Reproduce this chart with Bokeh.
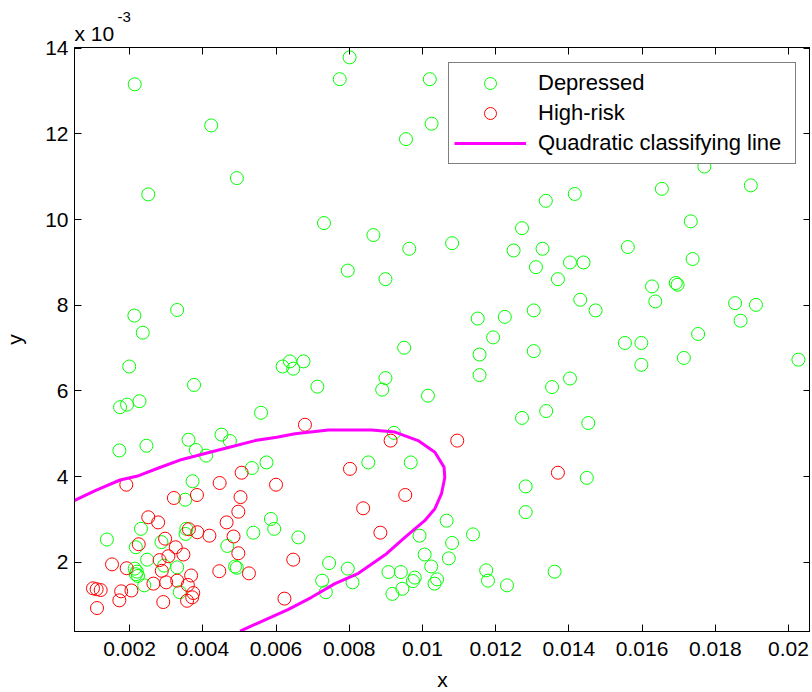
from bokeh.plotting import figure
from bokeh.models import LinearAxis, FixedTicker, Legend, LegendItem, Range1d, Title
from bokeh.embed import file_html
from bokeh.resources import INLINE

# ---------------- data (x in units of 1e-3, y in units of 1e-3) ----------------
dep_x = [2.14, 4.23, 4.93, 2.51, 2.13, 3.30, 2.36, 1.99, 6.38, 6.18, 6.47, 6.75, 3.76,
         8.01, 7.74, 10.20, 10.25, 9.55, 13.37, 7.31, 8.66, 12.72, 9.64, 10.81, 12.49, 13.28,
         7.96, 8.99, 13.10, 11.51, 12.25, 13.04, 11.93, 9.50, 11.56, 13.04, 11.56, 8.99, 7.13,
         17.70, 18.97, 16.54, 14.16, 17.33, 15.61, 17.38, 14.03, 14.40, 13.70, 16.27, 16.92,
         16.97, 16.36, 14.31, 14.73, 18.54, 19.11, 18.69, 17.53, 15.53, 15.98, 15.98, 17.14,
         20.27, 14.03, 13.54,
         13.38, 12.72, 14.53, 14.49, 12.82, 12.82, 11.38, 11.74, 11.79, 12.31, 13.61,
         8.90, 10.15, 5.59, 9.22, 5.74, 8.52, 9.68, 5.86, 5.95, 6.61, 10.66, 9.92, 10.81,
         10.06, 10.72, 7.45, 7.96, 10.24, 7.26, 8.09, 9.07, 9.41, 9.79, 9.74, 10.40, 10.33,
         9.45, 9.18, 7.36,
         1.74, 1.93, 2.27, 1.72, 2.46, 3.61, 3.81, 4.09, 4.51, 4.74, 5.34, 3.72, 3.52, 2.31,
         1.38, 3.53, 5.38, 4.67, 2.17, 2.87, 2.48, 3.30, 2.14, 2.20, 2.23, 2.17, 2.40, 4.88,
         4.93, 3.37, 2.94, 3.55]
dep_y = [13.16, 12.20, 10.97, 10.59, 7.76, 7.89, 7.36, 6.57, 6.69, 6.57, 6.52, 6.69, 6.14,
         13.79, 13.28, 13.28, 12.24, 11.88, 10.44, 9.92, 9.64, 9.80, 9.32, 9.45, 9.28, 9.32,
         8.81, 8.61, 8.89, 7.69, 7.73, 7.88, 7.25, 7.01, 6.85, 6.93, 6.37, 6.30, 6.10,
         11.24, 10.80, 10.72, 10.60, 9.96, 9.36, 9.08, 9.00, 9.00, 8.61, 8.44, 8.52,
         8.48, 8.09, 8.13, 7.88, 8.05, 8.01, 7.64, 7.33, 7.12, 7.12, 6.61, 6.77,
         6.73, 6.29, 6.09,
         5.53, 5.37, 5.25, 3.97, 3.77, 3.17, 2.65, 1.81, 1.57, 1.46, 1.78,
         6.03, 5.89, 5.49, 5.02, 4.33, 4.33, 4.33, 3.01, 2.78, 2.58, 2.97, 2.62, 2.45,
         2.18, 2.09, 1.98, 1.85, 1.90, 1.57, 1.53, 1.77, 1.77, 1.64, 1.56, 1.60, 1.50,
         1.38, 1.26, 1.30,
         5.62, 5.68, 5.76, 4.61, 4.72, 4.86, 4.62, 4.49, 4.98, 4.83, 4.20, 3.89, 3.46, 2.78,
         2.53, 2.66, 2.69, 2.38, 2.35, 2.47, 2.06, 1.88, 1.85, 1.78, 1.68, 1.72, 1.46, 1.90,
         1.87, 1.30, 1.92, 2.78]

risk_x = [6.79, 9.13, 10.95, 8.02, 6.00, 9.53, 8.38, 8.85, 6.47, 6.23, 13.70,
          5.06, 1.91, 4.46, 3.21, 3.84, 5.03, 4.97, 2.51, 2.78, 3.62, 3.85, 4.18, 4.65, 4.84,
          4.97, 2.25, 1.52, 1.92, 2.97, 3.26, 3.06, 2.82, 3.47, 2.88, 4.45, 5.26, 3.68, 3.30,
          3.00, 2.65, 3.59, 3.74, 3.71, 3.57, 2.92, 1.00, 1.10, 1.21, 1.11, 1.77, 1.72, 2.05]
risk_y = [5.21, 4.84, 4.84, 4.18, 3.81, 3.57, 3.26, 2.69, 2.06, 1.15, 4.09,
          4.09, 3.81, 3.85, 3.50, 3.57, 3.52, 3.18, 3.05, 2.93, 2.77, 2.70, 2.62, 2.93, 2.60,
          2.21, 2.42, 1.95, 1.86, 2.55, 2.35, 2.14, 2.05, 2.18, 1.80, 1.79, 1.74, 1.69, 1.57,
          1.53, 1.50, 1.47, 1.28, 1.18, 1.10, 1.07, 1.39, 1.37, 1.35, 0.93, 1.32, 1.11, 1.34]

curve_x = [0.49, 1.06, 1.74, 2.25, 2.79, 3.43, 4.06, 4.70, 5.43, 6.02, 6.52, 7.43, 8.61,
           9.25, 9.88, 10.34, 10.59, 10.61, 10.52, 10.34, 10.06, 9.52, 9.02, 8.25, 7.61,
           6.97, 6.34, 5.61, 5.02]
curve_y = [3.44, 3.67, 3.92, 4.02, 4.20, 4.40, 4.54, 4.68, 4.84, 4.92, 5.00, 5.09, 5.09,
           5.04, 4.84, 4.57, 4.22, 3.98, 3.60, 3.25, 2.97, 2.58, 2.20, 1.74, 1.50,
           1.18, 0.90, 0.62, 0.39]

x_ticks = [0.002, 0.004, 0.006, 0.008, 0.010, 0.012, 0.014, 0.016, 0.018, 0.020]
x_tick_labels = ["0.002", "0.004", "0.006", "0.008", "0.01", "0.012", "0.014",
                 "0.016", "0.018", "0.02"]
y_ticks = [2, 4, 6, 8, 10, 12, 14]
y_tick_labels = ["2", "4", "6", "8", "10", "12", "14"]

# convert x to real units
dx = [v * 1e-3 for v in dep_x]
rx = [v * 1e-3 for v in risk_x]
cx = [v * 1e-3 for v in curve_x]

FONT = "Liberation Sans"
FS = "21px"

p = figure(frame_width=736, frame_height=584,
           x_range=Range1d(0.000495, 0.0206), y_range=Range1d(0.382, 14.02),
           output_backend="svg", toolbar_location=None,
           min_border_left=64, min_border_right=0, min_border_top=47, min_border_bottom=50,
           x_axis_label="x", y_axis_label="y")
p.background_fill_color = "white"
p.border_fill_color = "white"
p.outline_line_color = "black"
p.outline_line_width = 1
p.xgrid.visible = False
p.ygrid.visible = False

def style_axis(ax, ticks, labels, show_labels=True):
    ax.ticker = FixedTicker(ticks=ticks)
    ax.major_label_overrides = {t: l for t, l in zip(ticks, labels)}
    ax.major_tick_in = 7
    ax.major_tick_out = 0
    ax.minor_tick_line_color = None
    ax.axis_line_color = "black"
    ax.major_tick_line_color = "black"
    ax.major_label_text_font = FONT
    ax.major_label_text_color = "black"
    ax.axis_label_text_font = FONT
    ax.axis_label_text_font_size = FS
    ax.axis_label_text_font_style = "normal"
    ax.axis_label_text_color = "black"
    if show_labels:
        ax.major_label_text_font_size = FS
    else:
        ax.major_label_text_font_size = "0px"
        ax.major_label_standoff = 0

style_axis(p.xaxis[0], x_ticks, x_tick_labels)
style_axis(p.yaxis[0], y_ticks, y_tick_labels)
p.xaxis[0].major_label_standoff = 10
p.xaxis[0].axis_label_standoff = 9
p.yaxis[0].major_label_standoff = 6
p.yaxis[0].axis_label_standoff = 16

top_ax = LinearAxis()
style_axis(top_ax, x_ticks, ["" for _ in x_tick_labels], show_labels=False)
p.add_layout(top_ax, "above")
right_ax = LinearAxis()
style_axis(right_ax, y_ticks, ["" for _ in y_tick_labels], show_labels=False)
p.add_layout(right_ax, "right")

# exponent note "x 10^-3" above the y axis
t_main = Title(text="x 10", align="left", offset=0, standoff=5,
               text_font=FONT, text_font_size=FS, text_font_style="normal",
               text_color="black")
t_sup = Title(text="-3", align="left", offset=43, standoff=-8,
              text_font=FONT, text_font_size="15px", text_font_style="normal",
              text_color="black")
p.add_layout(t_main, "above")
p.add_layout(t_sup, "above")

g = p.scatter(dx, dep_y, marker="circle", size=13, fill_color=None,
              line_color="#00ff00", line_width=1)
r = p.scatter(rx, risk_y, marker="circle", size=13, fill_color=None,
              line_color="#ff0000", line_width=1)
c = p.line(cx, curve_y, line_color="#ff00ff", line_width=3)

legend = Legend(items=[LegendItem(label="Depressed", renderers=[g]),
                       LegendItem(label="High-risk", renderers=[r]),
                       LegendItem(label="Quadratic classifying line", renderers=[c])],
                location=(374, 467))
legend.label_text_font = FONT
legend.label_text_font_size = "22px"
legend.label_text_color = "black"
legend.padding = 5
legend.spacing = 0
legend.margin = 0
legend.label_height = 30
legend.glyph_height = 30
legend.glyph_width = 72
legend.label_standoff = 12
legend.label_width = 252
legend.border_line_color = "black"
legend.border_line_width = 1
legend.background_fill_color = "white"
legend.background_fill_alpha = 1.0
p.add_layout(legend, "center")

open("out.html", "w").write(file_html(p, INLINE))
